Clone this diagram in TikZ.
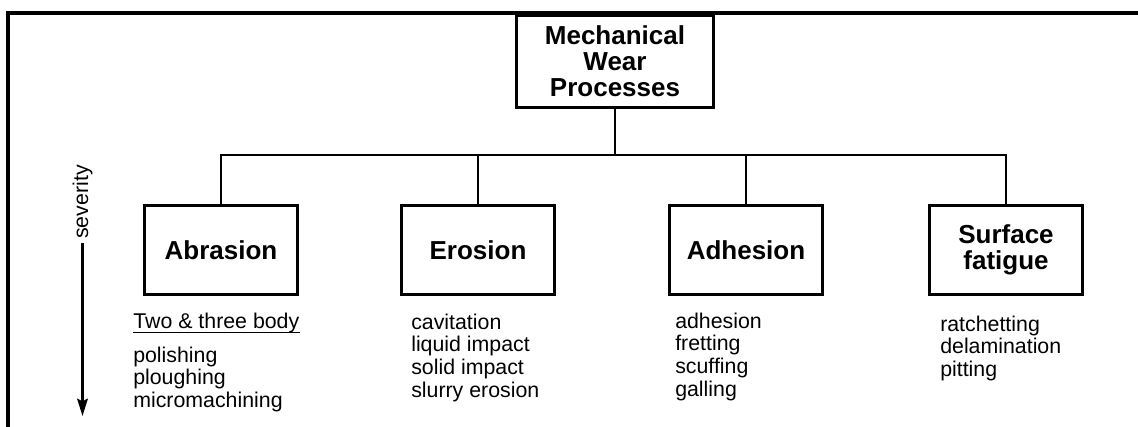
\documentclass[tikz,border=0pt]{standalone}
\usepackage{fontspec}
\setmainfont{Liberation Sans}
\usetikzlibrary{arrows.meta}

\begin{document}
\begin{tikzpicture}[>=Stealth, x=0.75pt, y=-0.75pt,
		wearbox/.style={draw, line width=2pt, minimum width=115pt, minimum height=67pt, align=center, font=\fontsize{19.5}{19.5}\selectfont\bfseries},
		conn/.style={line width=1.7pt},
		leaf/.style={anchor=north west, inner sep=0pt, align=left, font=\fontsize{16}{17}\selectfont}]
		\useasboundingbox (0,0) rectangle (1138,427);
		\draw[line width=2.6pt] (8,427) -- (8,13) -- (1138,13);
		
		\node[wearbox, minimum width=148pt, minimum height=69pt] (mwp) at (615,61.5) {Mechanical\\Wear\\Processes};
		\node[wearbox] (abr) at (221,250) {Abrasion};
		\node[wearbox] (ero) at (478,250) {Erosion};
		\node[wearbox] (adh) at (746,250) {Adhesion};
		\node[wearbox] (sfat) at (1006,250) {Surface\\fatigue};
		
		\coordinate (bus) at (615,155);
		\draw[conn] (mwp) -- (bus);
		\draw[conn] (abr.north) -- (abr.north |- bus) -- (sfat.north |- bus) -- (sfat.north);
		\draw[conn] (ero.north) -- (ero.north |- bus);
		\draw[conn] (adh.north) -- (adh.north |- bus);
		
		\node[leaf] (abrhead) at (133,312.5) {Two \& three body};
		\draw[line width=1pt] ([yshift=-3pt]abrhead.base west) -- ([yshift=-3pt]abrhead.base east);
		\node[leaf] (abrlist) at (133,346.5) {polishing\\ploughing\\micromachining};
		\node[leaf] (erolist) at (411,313.5) {cavitation\\liquid impact\\solid impact\\slurry erosion};
		\node[leaf] (adhlist) at (675,312.5) {adhesion\\fretting\\scuffing\\galling};
		\node[leaf] (sfatlist) at (940,315.5) {ratchetting\\delamination\\pitting};
		
		\node[rotate=90, font=\fontsize{16}{17}\selectfont] (sev) at (82.5,202) {severity};
		\coordinate (sevtip) at (82.5,416);
		\draw[line width=1.8pt, -{Stealth[length=13pt,width=8pt,inset=2pt]}] (sev) -- (sev |- sevtip);
	\end{tikzpicture}
\end{document}
